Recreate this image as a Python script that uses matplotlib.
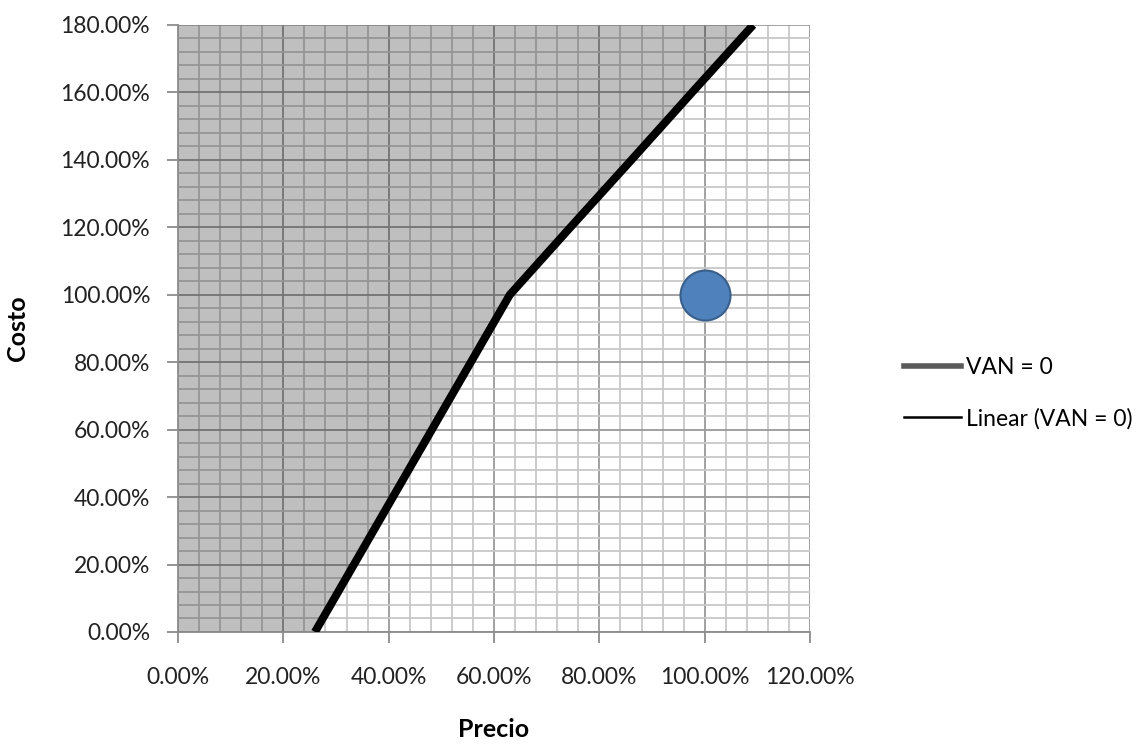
import numpy as np
import matplotlib
matplotlib.use('Agg')
import matplotlib.pyplot as plt
from matplotlib.lines import Line2D
from matplotlib.ticker import MultipleLocator, FuncFormatter

plt.rcParams['font.family'] = ['Lato', 'DejaVu Sans']

# VAN = 0 frontier (precio vs costo)
precio = [0.26, 0.334, 0.408, 0.482, 0.556, 0.63, 0.745, 0.861, 0.976, 1.092]
costo = [0.0, 0.2, 0.4, 0.6, 0.8, 1.0, 1.2, 1.4, 1.6, 1.8]

# current case
punto_precio = [1.0]
punto_costo = [1.0]

labels = ['VAN = 0', 'Linear (VAN = 0)']

fig = plt.figure(figsize=(11.44, 7.45), dpi=100)
ax = fig.add_axes([0.1556, 0.1517, 0.5525, 0.8148])

ax.set_xlim(0, 1.2)
ax.set_ylim(0, 1.8)

# grid
ax.xaxis.set_major_locator(MultipleLocator(0.2))
ax.yaxis.set_major_locator(MultipleLocator(0.2))
ax.xaxis.set_minor_locator(MultipleLocator(0.04))
ax.yaxis.set_minor_locator(MultipleLocator(0.04))
ax.grid(which='major', color='#9a9a9a', lw=1.3, zorder=1)
ax.grid(which='minor', color='#c8c8c8', lw=1.3, zorder=1)
ax.set_axisbelow(True)

# shaded zone (VAN < 0), drawn over the grid with transparency
ax.fill_betweenx(costo, 0, precio, color='black', alpha=0.25, lw=0, zorder=2)

ax.plot(precio, costo, color='black', lw=5.8, solid_capstyle='butt', zorder=3)
ax.plot(punto_precio, punto_costo, 'o', ms=36, color='#4f81bd',
        mec='#3a5f8a', mew=1.5, zorder=4)

pct = FuncFormatter(lambda v, p: '{:.2f}%'.format(v * 100))
ax.xaxis.set_major_formatter(pct)
ax.yaxis.set_major_formatter(pct)

for s in ['top', 'right']:
  ax.spines[s].set_visible(False)
for s in ['left', 'bottom']:
  ax.spines[s].set_color('#8c8c8c')
  ax.spines[s].set_linewidth(1.3)

ax.tick_params(which='minor', length=0)
ax.tick_params(which='major', length=8, width=1.3, color='#8c8c8c',
               labelsize=16.5, labelcolor='#222222')
ax.tick_params(axis='x', pad=17)
ax.tick_params(axis='y', pad=12)

ax.set_xlabel('Precio', fontsize=18, fontweight='bold')
ax.set_ylabel('Costo', fontsize=18, fontweight='bold')
ax.xaxis.set_label_coords(0.5, -0.142)
ax.yaxis.set_label_coords(-0.235, 0.5)

handles = [Line2D([], [], color='#5a5a5a', lw=4),
           Line2D([], [], color='black', lw=1.8)]
fig.legend(handles, labels, loc='center left', bbox_to_anchor=(0.772, 0.472),
           frameon=False, fontsize=16.5, labelspacing=1.3,
           handlelength=2.5, handletextpad=0.2)

plt.savefig('out.png', dpi=100)
